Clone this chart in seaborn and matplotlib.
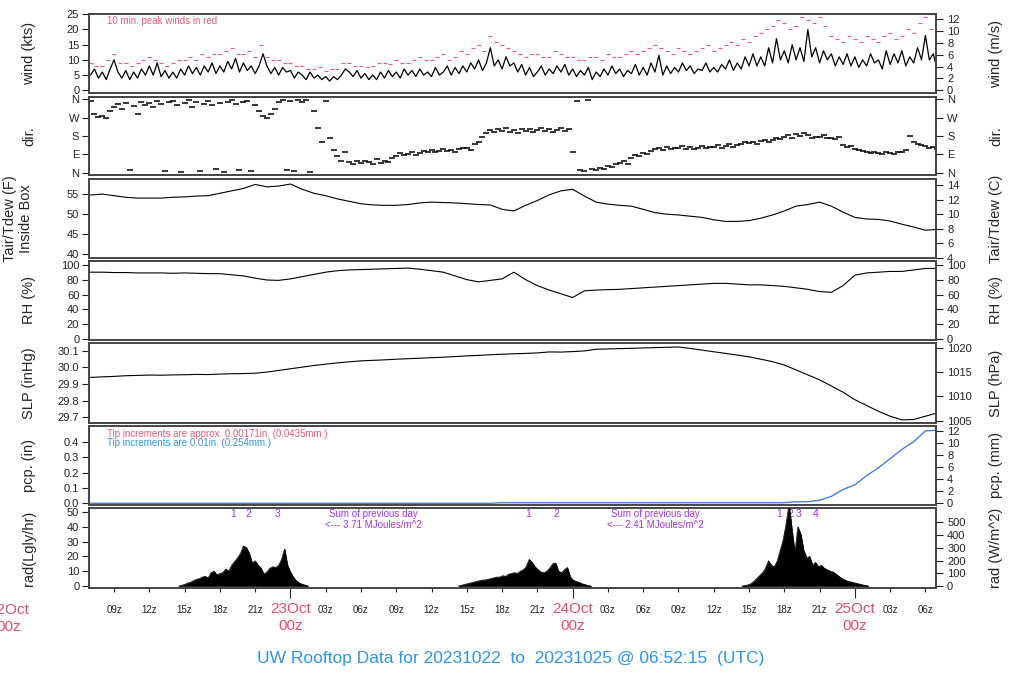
import numpy as np
import pandas as pd
import matplotlib
matplotlib.use("Agg")
import matplotlib.pyplot as plt
import seaborn as sns

# ---------------- data (time in hours since 2023-10-22 00z) ----------------
wind_start = 7.0          # 20-minute samples
wind_kts = [
    5, 7, 4,   6, 3.5, 7,   10, 6, 4,   6.5, 3.5, 6,   4, 7, 5,   8, 5, 9,
    4.5, 6.5, 4,   6, 4, 7,   5, 8, 5.5,   7.5, 5, 8,   6, 9, 5.5,   8, 6, 9.5,
    7, 10.5, 6,   9, 6.5, 8,   5.5, 8, 12,   8, 5.5, 7.5,   5, 7.5, 6,   6.5, 4, 6,
    5, 3.5, 6,   4, 5, 3.5,   4.5, 3, 4.5,   3.5, 5, 7,   6, 4.5, 6.5,   4, 5.5, 3.5,
    5, 3.5, 6,   4, 6.5, 4.5,   6, 4, 7,   5, 6.5, 4.5,   7, 5, 6,   4.5, 7.5, 5,
    6, 8, 5,   7.5, 5.5, 8,   6, 9, 7,   10, 6.5, 9,   14, 8, 10,   7, 11, 8,
    9, 6, 8.5,   5, 7.5, 4.5,   6, 8, 5,   7, 5.5, 8,   6, 8.5, 5,   7, 4.5, 6.5,
    5, 7.5, 3.5,   6, 4.5, 7,   5, 8, 5.5,   7, 4.5, 6.5,   5.5, 8.5, 5,   7.5, 5, 9,
    6, 11.5, 5,   8, 5.5, 7.5,   6, 9, 6.5,   8, 5.5, 7,   6.5, 9, 6,   7.5, 6, 8.5,
    7, 10, 6.5,   9, 7, 11,   8, 12, 8,   11, 8, 14,   9, 17, 10,   13, 9, 15,
    10, 14, 9.5,   20, 11, 14,   9, 13, 10,   12, 8, 11,   8.5, 12, 8,   11, 7.5, 10,
    8, 12, 9,   10, 7, 13,   8.5, 12, 9,   13, 8, 11,   9, 14, 10,   18, 10, 12,
    7,
]
gust_start = 7.0          # 30-minute peaks
gust_kts = [
    9, 8,  8, 10,  12, 9,  9, 8,  9, 10,  11, 10,  9, 8,  9, 10,  10, 11,  10, 12,
    11, 12,  12, 13,  14, 12,  12, 13,  11, 15,  11, 10,  10, 9,  9, 8,  8, 7,  7, 7.5,
    6.5, 7,  7, 9,  9, 8,  8, 7.5,  8, 9,  9, 8.5,  10, 9,  9, 10,  11, 10,  10, 11,
    12, 10,  11, 13,  12, 14,  15, 13,  18, 16,  15, 14,  13, 12,  11, 12,  12, 11,  11, 13,
    12, 11,  11, 10,  10, 11,  11, 10,  12, 11,  11, 12,  13, 12,  13, 14,  15, 14,  13, 12,
    14, 13,  12, 13,  14, 15,  13, 14,  15, 16,  15, 17,  16, 18,  19, 20,  21, 23,  22, 20,
    21, 24,  23, 22,  24, 21,  18, 17,  16, 18,  17, 16,  18, 17,  16, 18,  19, 17,  18, 20,
    19, 22,  24, 20,  15,
]
wdir_start = 7.0          # 20-minute samples
wdir_deg = [
    350, 290, 275,  280, 270, 300,  320, 335, 310,  340, 15, 325,  290, 345, 330,
    340, 320, 350,  335, 10, 345,  350, 330, 5,  340, 355, 320,  345, 10, 335,
    350, 330, 20,  340, 5, 345,  355, 335, 15,  345, 350, 10,  330, 300, 280,
    270, 290, 310,  345, 355, 15,  350, 10, 355,  345, 355, 5,  300, 220, 150,
    350, 170, 110,  80, 60, 100,  55, 45, 60,  50, 60, 55,  45, 65, 50,
    60, 55, 70,  80, 95, 85,  90, 100, 85,  95, 105, 100,  110, 100, 105,
    115, 105, 110,  100, 115, 120,  120, 110, 140,  150, 175, 195,  210, 200, 215,
    205, 220, 200,  210, 195, 215,  205, 215, 200,  210, 220, 205,  215, 200, 210,
    220, 205, 215,  100, 350, 15,  10, 355, 20,  15, 25, 20,  35, 30, 45,
    50, 60, 45,  70, 85, 80,  95, 90, 105,  115, 120, 110,  125, 115, 120,
    120, 130, 115,  125, 115, 120,  130, 120, 125,  125, 135, 120,  130, 140, 125,
    135, 140, 150,  145, 150, 140,  155, 160, 150,  160, 170, 165,  175, 185, 170,
    190, 180, 195,  185, 170, 175,  175, 185, 170,  170, 165, 175,  135, 125, 130,
    115, 110, 105,  100, 95, 100,  95, 90, 100,  95, 90, 100,  100, 110, 180,
    150, 140, 135,  130, 120, 125,  115,
]
hourly_start = 7.0        # hourly samples
temp_f = [
    54.75, 55.0, 54.6, 54.2, 54.0, 54.0, 54.0, 54.2, 54.3, 54.5, 54.6, 55.2, 55.8, 56.4,
    57.4, 56.8, 57.0, 57.5, 56.2, 55.2, 54.6, 53.8, 53.2, 52.6, 52.3, 52.2, 52.2, 52.4,
    52.8, 53.0, 52.9, 52.8, 52.6, 52.4, 52.3, 51.2, 50.8, 52.2, 53.4, 54.8, 55.8, 56.2,
    54.5, 53.0, 52.5, 52.2, 52.0, 51.2, 50.4, 50.0, 49.8, 49.5, 49.2, 48.6, 48.2, 48.2,
    48.4, 49.0, 49.8, 50.8, 52.0, 52.4, 53.0, 52.0, 50.5, 49.2, 48.8, 48.7, 48.3, 47.5,
    46.8, 46.0, 46.2,
]
rh_pct = [
    90, 90, 89.5, 89.5, 89, 89, 89, 88.5, 89, 88.5, 88, 88, 86.5, 85, 82, 79.5, 79, 81,
    84, 87, 90, 92, 93, 93.5, 94, 94.5, 95, 95.5, 94, 92, 90, 85, 80, 77, 79, 81, 90, 80,
    72, 66, 61, 56, 65, 66, 66.5, 67, 68, 69, 70, 71, 72, 73, 74, 75, 75, 74, 73, 73, 72,
    71, 69, 67, 64, 63, 72, 86, 89, 90, 91, 91, 93, 95, 95,
]
slp_inhg = [
    29.940, 29.943, 29.946, 29.950, 29.952, 29.954, 29.953, 29.955, 29.956, 29.958,
    29.957, 29.960, 29.962, 29.963, 29.965, 29.972, 29.982, 29.992, 30.002, 30.012,
    30.020, 30.028, 30.034, 30.040, 30.043, 30.046, 30.050, 30.053, 30.056, 30.059,
    30.062, 30.066, 30.070, 30.073, 30.077, 30.080, 30.083, 30.085, 30.088, 30.094,
    30.093, 30.096, 30.100, 30.110, 30.112, 30.114, 30.116, 30.118, 30.120, 30.122,
    30.124, 30.115, 30.105, 30.095, 30.085, 30.075, 30.064, 30.050, 30.035, 30.015,
    29.985, 29.955, 29.925, 29.888, 29.850, 29.805, 29.770, 29.735, 29.705, 29.683,
    29.685, 29.705, 29.725,
]
pcp_in = [
    0, 0, 0, 0, 0, 0, 0, 0, 0, 0, 0, 0, 0, 0, 0, 0, 0, 0, 0, 0, 0, 0, 0, 0, 0, 0, 0, 0,
    0, 0, 0, 0, 0, 0, 0, 0.004, 0.004, 0.004, 0.004, 0.004, 0.004, 0.004, 0.004, 0.004,
    0.004, 0.004, 0.004, 0.004, 0.004, 0.004, 0.004, 0.004, 0.004, 0.004, 0.004, 0.004,
    0.004, 0.004, 0.004, 0.004, 0.01, 0.01, 0.02, 0.045, 0.09, 0.12, 0.18, 0.23, 0.29,
    0.35, 0.40, 0.47, 0.475,
]
rad_day_starts = [14.5, 38.3, 62.4]   # 15-minute samples during daylight
rad_day1 = [0, 0.5, 1, 2, 2.5, 3.5, 4.5, 5, 6, 6.5, 5.5, 9, 10, 7.5, 8.5, 9, 11.5, 10,
            14, 16.5, 19, 22, 27, 26, 22, 15.5, 17, 14, 12, 8, 9.5, 12, 13, 12.5, 14,
            18, 25, 14, 9.5, 6, 3.5, 2, 1.2, 0.6, 0]
rad_day2 = [0, 0.5, 1, 1.5, 2, 2.5, 3, 3.5, 4, 4, 4.5, 5, 5.5, 6, 6, 7, 6.5, 8, 8.5, 9,
            8.5, 10, 11, 13, 18, 16, 13, 11, 9.5, 9, 10, 12, 15, 15.5, 10, 9, 11, 12.5,
            6, 4, 3, 2.5, 1.5, 1, 0.3, 0]
rad_day3 = [0, 0.3, 0.7, 1.5, 3, 5, 7, 9, 12, 17, 14, 13, 17, 24, 31, 42, 55, 38, 22,
            40, 35, 24, 19, 20, 14, 16, 13, 14, 12, 11, 10, 9.5, 8, 6.5, 5, 4, 3.2, 2.8,
            2.2, 1.8, 1.3, 0.8, 0.4, 0]
rad_marks = [("1", 19.1), ("2", 20.4), ("3", 22.9), ("1", 44.2), ("2", 46.6),
             ("1", 65.6), ("2", 66.5), ("3", 67.2), ("4", 68.7)]
rad_sums = [(31.06, "3.71"), (55.06, "2.41")]
hour_ticks = [9, 12, 15, 18, 21, 27, 30, 33, 36, 39, 42, 45, 51, 54, 57, 60, 63, 66, 69, 75, 78]
hour_labels = ["09z", "12z", "15z", "18z", "21z", "03z", "06z", "09z", "12z", "15z", "18z",
               "21z", "03z", "06z", "09z", "12z", "15z", "18z", "21z", "03z", "06z"]
day_ticks = [0, 24, 48, 72]
day_labels = ["22Oct\n00z", "23Oct\n00z", "24Oct\n00z", "25Oct\n00z"]

# ---------------- frames ----------------
def frame(start, step, vals):
    return pd.DataFrame({"t": start + np.arange(len(vals)) * step, "v": vals})

df_wind = frame(wind_start, 1 / 3, wind_kts)
df_gust = frame(gust_start, 0.5, gust_kts)
df_dir = frame(wdir_start, 1 / 3, wdir_deg)
df_temp = frame(hourly_start, 1.0, temp_f)
df_rh = frame(hourly_start, 1.0, rh_pct)
df_slp = frame(hourly_start, 1.0, slp_inhg)
df_pcp = frame(hourly_start, 1.0, pcp_in)
rad_frames = [frame(s, 0.25, d) for s, d in zip(rad_day_starts, [rad_day1, rad_day2, rad_day3])]

# ---------------- style ----------------
sns.set_style("ticks")
plt.rcParams["font.family"] = ["Liberation Sans", "DejaVu Sans"]

RED = "#e0506e"
PINK = "#ee5a7c"
BLUE = "#2f95e6"
PURPLE = "#a335f0"
X0, X1 = 6.87, 78.9

fig = plt.figure(figsize=(10.24, 7.0), dpi=100)
L, W = 89 / 1024, 847 / 1024
tops = [14, 97, 179, 261, 343, 426, 508]
bots = [93, 175, 258, 340, 423, 505, 588]
axes = [fig.add_axes([L, 1 - b / 700, W, (b - t) / 700]) for t, b in zip(tops, bots)]


def style(ax, ylim, ticks, labels=None):
    ax.set_xlim(X0, X1)
    ax.set_ylim(*ylim)
    ax.set_yticks(ticks)
    if labels is not None:
        ax.set_yticklabels(labels)
    ax.tick_params(axis="y", direction="out", length=5, width=0.8, labelsize=8, pad=2,
                   colors="#222222")
    ax.tick_params(axis="x", bottom=False, labelbottom=False)
    ax.set_xlabel("")
    ax.set_ylabel("")
    for s in ax.spines.values():
        s.set_linewidth(1.4)
        s.set_color("#444444")


def right(ax, conv, ticks, labels=None):
    tw = ax.twinx()
    lo, hi = ax.get_ylim()
    tw.set_ylim(conv(lo), conv(hi))
    tw.set_yticks(ticks)
    if labels is not None:
        tw.set_yticklabels(labels)
    tw.tick_params(axis="y", direction="out", length=5, width=0.8, labelsize=8, pad=3,
                   colors="#222222")
    for s in tw.spines.values():
        s.set_visible(False)
    return tw


def side_labels(ax, left_txt, right_txt, lx=29, rx=996):
    pos = ax.get_position()
    yc = (pos.y0 + pos.y1) / 2
    fig.text(lx / 1024, yc, left_txt, rotation=90, ha="center", va="center",
             fontsize=10.5, multialignment="center")
    fig.text(rx / 1024, yc, right_txt, rotation=90, ha="center", va="center", fontsize=10.5)


# 1 wind
ax = axes[0]
sns.lineplot(data=df_wind, x="t", y="v", ax=ax, color="black", lw=0.9)
sns.scatterplot(data=df_gust, x="t", y="v", ax=ax, marker="_", s=12, color=PINK, linewidth=0.8)
style(ax, (-0.9, 25.1), [0, 5, 10, 15, 20, 25])
right(ax, lambda v: v * 0.514444, [0, 2, 4, 6, 8, 10, 12])
ax.text(0.021, 0.975, "10 min. peak winds in red", transform=ax.transAxes, color=PINK,
        fontsize=7, va="top", ha="left")
side_labels(ax, "wind (kts)", "wind (m/s)")

# 2 direction
ax = axes[1]
sns.scatterplot(data=df_dir, x="t", y="v", ax=ax, marker="_", s=18, color="black", linewidth=1.1)
style(ax, (-11, 371), [0, 90, 180, 270, 360], ["N", "E", "S", "W", "N"])
right(ax, lambda v: v, [0, 90, 180, 270, 360], ["N", "E", "S", "W", "N"])
side_labels(ax, "dir.", "dir.")

# 3 temperature
ax = axes[2]
sns.lineplot(data=df_temp, x="t", y="v", ax=ax, color="black", lw=0.8)
style(ax, (39.1, 58.75), [40, 45, 50, 55])
right(ax, lambda v: (v - 32) * 5 / 9, [4, 6, 8, 10, 12, 14])
side_labels(ax, "Tair/Tdew (F)\nInside Box", "Tair/Tdew (C)", lx=18)

# 4 RH
ax = axes[3]
sns.lineplot(data=df_rh, x="t", y="v", ax=ax, color="black", lw=0.8)
style(ax, (-1, 105), [0, 20, 40, 60, 80, 100])
right(ax, lambda v: v, [0, 20, 40, 60, 80, 100])
side_labels(ax, "RH (%)", "RH (%)")

# 5 SLP
ax = axes[4]
sns.lineplot(data=df_slp, x="t", y="v", ax=ax, color="black", lw=0.8)
style(ax, (29.664, 30.148), [29.7, 29.8, 29.9, 30.0, 30.1], ["29.7", "29.8", "29.9", "30.0", "30.1"])
right(ax, lambda v: v * 33.8639, [1005, 1010, 1015, 1020])
side_labels(ax, "SLP (inHg)", "SLP (hPa)")

# 6 precipitation
ax = axes[5]
sns.lineplot(data=df_pcp, x="t", y="v", ax=ax, color="#4a7fd6", lw=1.0)
style(ax, (-0.011, 0.502), [0.0, 0.1, 0.2, 0.3, 0.4], ["0.0", "0.1", "0.2", "0.3", "0.4"])
right(ax, lambda v: v * 25.4, [0, 2, 4, 6, 8, 10, 12])
ax.text(0.021, 0.96, "Tip increments are approx. 0.00171in. (0.0435mm.)", transform=ax.transAxes,
        color=PINK, fontsize=7, va="top", ha="left")
ax.text(0.021, 0.85, "Tip increments are 0.01in. (0.254mm.)", transform=ax.transAxes,
        color=BLUE, fontsize=7, va="top", ha="left")
side_labels(ax, "pcp. (in)", "pcp. (mm)")

# 7 radiation
ax = axes[6]
for d in rad_frames:
    ax.fill_between(d["t"], 0, d["v"], color="black", lw=0.5, zorder=3)
    sns.lineplot(data=d, x="t", y="v", ax=ax, color="black", lw=0.5, zorder=3)
style(ax, (-1.35, 52.7), [0, 10, 20, 30, 40, 50])
right(ax, lambda v: v * 11.622, [0, 100, 200, 300, 400, 500])
for lab, t in rad_marks:
    ax.text(t, 48.6, lab, color=PURPLE, fontsize=7.5, ha="center", va="center", zorder=1)
for t, val in rad_sums:
    ax.text(t, 48.6, "Sum of previous day", color=PURPLE, fontsize=7, ha="center", va="center")
    ax.text(t, 41.3, "<--- " + val + " MJoules/m^2", color=PURPLE, fontsize=7, ha="center",
            va="center")
side_labels(ax, "rad(Lgly/hr)", "rad (W/m^2)")

# x axis on bottom panel
ax.tick_params(axis="x", bottom=True, labelbottom=True)
ax.set_xticks(day_ticks[1:])
ax.set_xticklabels(day_labels[1:])
ax.set_xticks(hour_ticks, hour_labels, minor=True)
ax.tick_params(axis="x", which="major", direction="out", length=7, width=0.8, labelsize=11,
               labelcolor=RED, pad=3)
ax.tick_params(axis="x", which="minor", direction="out", length=3, width=0.8, labelsize=7,
               labelcolor="#222222", pad=9)
ax.set_xlim(X0, X1)
ax.text(day_ticks[0], -0.19, day_labels[0], transform=ax.get_xaxis_transform(), color=RED,
        fontsize=11, ha="center", va="top", clip_on=False, linespacing=1.25)
for lab in ax.get_xticklabels():
    lab.set_linespacing(1.25)

fig.text(511 / 1024, 1 - 659 / 700, "UW Rooftop Data for 20231022  to  20231025 @ 06:52:15  (UTC)",
         ha="center", va="center", color=BLUE, fontsize=12.5)

fig.savefig("out.png", dpi=100)
